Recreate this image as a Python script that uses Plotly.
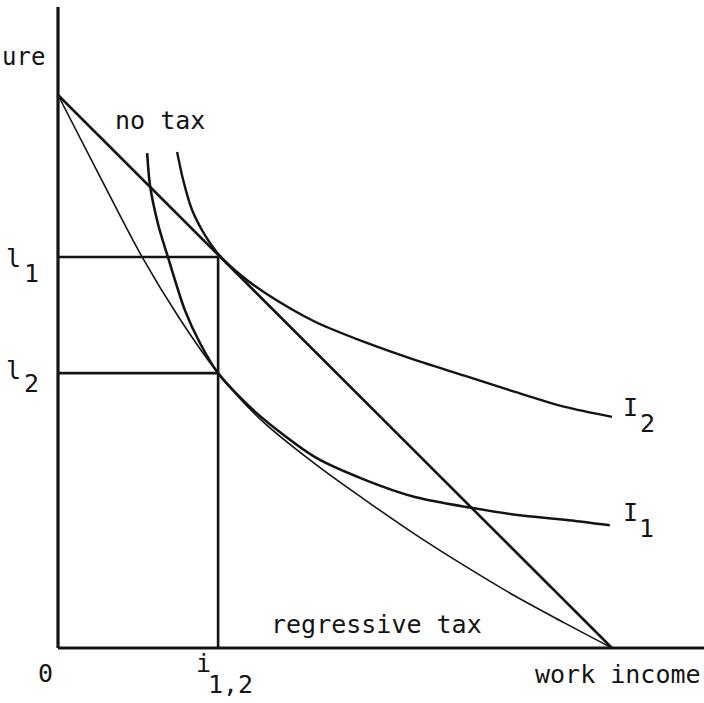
import plotly.graph_objects as go

# ---- data (in diagram units: origin at 0, budget intercepts at 10) ----
budget_x = [0, 10]
budget_y = [10, 0]

regressive_x = [0, 0.76, 1.53, 2.2, 2.89, 3.65, 4.64, 5.54, 6.44, 7.35, 8.25, 9.15, 10]
regressive_y = [10, 8.52, 7.05, 5.95, 4.97, 4.14, 3.33, 2.68, 2.06, 1.48, 0.94, 0.45, 0]

i1_x = [1.61, 1.66, 1.81, 1.99, 2.29, 2.56, 2.89, 3.56, 4.64, 5.54, 6.44, 7.49, 8.25, 9.15, 9.96]
i1_y = [8.95, 8.37, 7.65, 7.05, 6.11, 5.52, 4.97, 4.27, 3.45, 3.04, 2.73, 2.53, 2.41, 2.32, 2.22]

i2_x = [2.15, 2.26, 2.42, 2.65, 2.89, 3.29, 3.74, 4.64, 5.54, 6.44, 7.35, 8.25, 9.15, 10]
i2_y = [8.97, 8.46, 7.92, 7.47, 7.13, 6.75, 6.42, 5.90, 5.53, 5.21, 4.92, 4.63, 4.36, 4.18]

l1_level = 7.07
l2_level = 4.97
i12_level = 2.89

# ---- figure geometry (pixel mapping) ----
W, H = 704, 703
X0PX, Y0PX = 58, 648
SX, SY = 55.4, 55.3
x_range = [(0 - X0PX) / SX, (W - X0PX) / SX]
y_range = [(Y0PX - H) / SY, (Y0PX - 0) / SY]

def pxx(p):
    return p / W

def pyy(p):
    return 1 - p / H

BLACK = "#141414"
FONT = "DejaVu Sans Mono"

fig = go.Figure()

fig.add_trace(go.Scatter(x=budget_x, y=budget_y, mode="lines",
                         line=dict(color=BLACK, width=2.6), hoverinfo="skip"))
fig.add_trace(go.Scatter(x=regressive_x, y=regressive_y, mode="lines",
                         line=dict(color=BLACK, width=1.6, shape="spline", smoothing=1.0),
                         hoverinfo="skip"))
fig.add_trace(go.Scatter(x=i1_x, y=i1_y, mode="lines",
                         line=dict(color=BLACK, width=2.6, shape="spline", smoothing=0.8),
                         hoverinfo="skip"))
fig.add_trace(go.Scatter(x=i2_x, y=i2_y, mode="lines",
                         line=dict(color=BLACK, width=2.4, shape="spline", smoothing=0.8),
                         hoverinfo="skip"))

# guide lines
fig.add_trace(go.Scatter(x=[0, i12_level], y=[l1_level, l1_level], mode="lines",
                         line=dict(color=BLACK, width=2.6), hoverinfo="skip"))
fig.add_trace(go.Scatter(x=[0, i12_level], y=[l2_level, l2_level], mode="lines",
                         line=dict(color=BLACK, width=2.6), hoverinfo="skip"))
fig.add_trace(go.Scatter(x=[i12_level, i12_level], y=[0, l1_level], mode="lines",
                         line=dict(color=BLACK, width=2.6), hoverinfo="skip"))

# axes
fig.add_shape(type="line", xref="x", yref="y", x0=0, y0=0, x1=0, y1=(Y0PX - 7) / SY,
              line=dict(color=BLACK, width=3.2))
fig.add_shape(type="line", xref="x", yref="y", x0=0, y0=0, x1=x_range[1], y1=0,
              line=dict(color=BLACK, width=3.2))

labels = [
    ("ure", 0, 57, 24, "left"),
    ("no tax", 160, 120, 25, "center"),
    ("regressive tax", 376, 624, 25, "center"),
    ("work income", 703, 674, 25, "right"),
    ("0", 45, 673, 25, "center"),
    ("i", 203, 663, 25, "center"),
    ("1,2", 230, 684, 25, "center"),
    ("l", 13, 258, 25, "center"),
    ("1", 31, 273, 25, "center"),
    ("l", 13, 370, 25, "center"),
    ("2", 31, 383, 25, "center"),
    ("I", 630, 407, 25, "center"),
    ("2", 647, 424, 25, "center"),
    ("I", 630, 512, 25, "center"),
    ("1", 646, 528, 25, "center"),
]
for txt, x, y, s, anc in labels:
    fig.add_annotation(text=txt, x=pxx(x), y=pyy(y), xref="paper", yref="paper",
                       xanchor=anc, yanchor="middle", showarrow=False,
                       font=dict(family=FONT, size=s, color=BLACK))

fig.update_layout(
    width=W, height=H,
    margin=dict(l=0, r=0, t=0, b=0),
    paper_bgcolor="white", plot_bgcolor="white",
    showlegend=False,
    xaxis=dict(range=x_range, visible=False, fixedrange=True),
    yaxis=dict(range=y_range, visible=False, fixedrange=True),
)

fig.write_html("out.html", config={"displayModeBar": False},
               post_script="document.body.style.margin='0px';document.body.style.overflow='hidden';")
